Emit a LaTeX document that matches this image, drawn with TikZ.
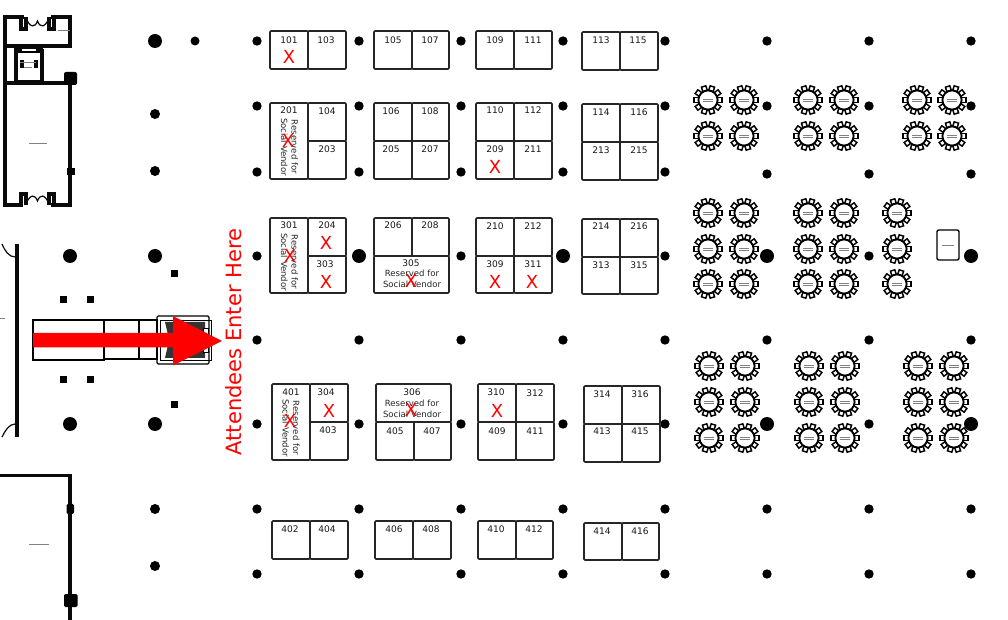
\documentclass[tikz,border=0pt]{standalone}
\usepackage{fontspec}
\setmainfont{DejaVu Sans}
\definecolor{wallblack}{RGB}{10,10,10}
\tikzset{
  px/.style={x=0.75pt,y=-0.75pt},
  boothbox/.style={draw=black!85,line width=1.2pt,rounded corners=0.8pt,fill=white},
  boothnum/.style={font=\fontsize{6.8}{8}\selectfont,inner sep=0pt,text=black!90},
  resnote/.style={font=\fontsize{6.4}{7.9}\selectfont,inner sep=0pt,align=center,text=black!85},
  soldx/.style={font=\fontsize{13.5}{14}\selectfont,text=red,inner sep=0pt},
  wall/.style={draw=wallblack,line width=2.6pt},
  thinwall/.style={draw=wallblack,line width=1.1pt},
  door/.style={draw=wallblack,line width=0.9pt},
  column/.style={fill=black,draw=none},
  tinylabel/.style={draw=gray,line width=0.5pt},
  chair/.style={draw=black,line width=1.1pt,fill=white},
}
\newcommand{\bx}[4]{\draw[boothbox] (#1,#2) rectangle (#3,#4);}
\newcommand{\bn}[3]{\node[boothnum] at (#1,#2) {#3};}
\newcommand{\sold}[2]{\node[soldx] at (#1,#2) {X};}
% two-by-two block: x1 xm x2 y1 ym y2
\newcommand{\twotwo}[6]{\bx{#1}{#4}{#2}{#5}\bx{#2}{#4}{#3}{#5}\bx{#1}{#5}{#2}{#6}\bx{#2}{#5}{#3}{#6}}
\newcommand{\onetwo}[5]{\bx{#1}{#4}{#2}{#5}\bx{#2}{#4}{#3}{#5}}
\newcommand{\roundtable}[2]{%
  \begin{scope}[shift={(#1,#2)}]
    \foreach \a in {0,36,...,324} {
      \draw[chair,rotate=\a] (9.2,-2.3) rectangle (14.2,2.3);
    }
    \draw[draw=black,line width=1.4pt,fill=white] (0,0) circle (9.6);
    \draw[tinylabel] (-5,-1) -- (5,-1);
    \draw[tinylabel] (-5,1.5) -- (5,1.5);
  \end{scope}}
\begin{document}
\begin{tikzpicture}[px]
\useasboundingbox (0,0) rectangle (1008,620);
\fill[white] (0,0) rectangle (1008,620);

% ---- columns
\foreach \x/\y/\r in {155/41/7,155/114/5,155/171/5,70/256/7,155/256/7,70/424/7,155/424/7,155/509/5,155/566/5,195/41/4.5}
  {\fill[column] (\x,\y) circle (\r);}
\foreach \x in {257,359,461,563,665}
  {\foreach \y in {41,106,172,340,424,509,574}
    {\fill[column] (\x,\y) circle (4.7);}}
\foreach \x in {257,461,665}
  {\fill[column] (\x,256) circle (4.7);}
\foreach \x in {359,563}
  {\fill[column] (\x,256) circle (7);}
\foreach \x in {767,869,971}
  {\foreach \y in {41,106,174,340,509,574}
    {\fill[column] (\x,\y) circle (4.7);}}
\foreach \x in {767,971}{
  \fill[column] (\x,256) circle (7);
  \fill[column] (\x,424) circle (7);}
\fill[column] (869,256) circle (4.7);
\fill[column] (869,424) circle (4.7);

% ---- small square posts
\foreach \x/\y in {63/300,90/300,63/380,90/380,174/274,174/405}
  {\fill[black] (\x-3.5,\y-3.5) rectangle (\x+3.5,\y+3.5);}

% ---- top-left building
\draw[wall] (24,17) -- (5,17) -- (5,205) -- (23,205);
\draw[wall] (51,17) -- (70,17) -- (70,46) -- (5,46);
\draw[wall] (5,83) -- (70,83);
\draw[wall] (70,83) -- (70,205) -- (51,205);
\draw[wall] (21,17) -- (21,29) -- (26,29) -- (26,17);
\draw[wall] (49,17) -- (49,29) -- (54,29) -- (54,17);
\draw[wall] (21,205) -- (21,194) -- (26,194) -- (26,205);
\draw[wall] (49,205) -- (49,194) -- (54,194) -- (54,205);
\draw[door] (26,18) .. controls (30,28) and (35,28) .. (37.5,21) .. controls (40,28) and (45,28) .. (49,18);
\draw[door] (26,204) .. controls (30,194) and (35,194) .. (37.5,201) .. controls (40,194) and (45,194) .. (49,204);
\draw[thinwall] (15,48) rectangle (42,81);
\draw[wall] (16,50) -- (16,81);
\draw[wall] (42,49) -- (42,81);
\draw[wall] (16,49) -- (22,49);
\draw[wall] (36,49) -- (42,49);
\draw[wall] (22,60) -- (22,68);
\draw[wall] (36,60) -- (36,68);
\draw[line width=0.8pt,draw=black] (18,52) -- (40,52);
\draw[tinylabel] (20,62) -- (36,62);
\draw[tinylabel] (24,67) -- (32,67);
\draw[tinylabel] (58,30.5) -- (70,30.5);
\draw[tinylabel] (29,143) -- (47,143);
\fill[black,rounded corners=1.5pt] (64,72) rectangle (77,85);
\fill[black] (67,168) rectangle (74.5,175);

% ---- middle wall
\draw[wall] (17,244) -- (17,437);
\draw[door] (15,257) .. controls (9,257) and (5,251) .. (2,244);
\draw[door] (15,424) .. controls (9,424) and (5,431) .. (2,437);
\draw[tinylabel] (0,318) -- (5,318);

% ---- entry
\draw[draw=black,line width=0.8pt] (33,320) rectangle (104,360);
\draw[draw=black,line width=1.5pt] (104,320) rectangle (157,359);
\draw[draw=black,line width=0.8pt] (139,320) -- (139,359);
\draw[draw=black,line width=0.9pt,rounded corners=1pt] (157,316) rectangle (209,364);
\draw[draw=black,line width=0.7pt] (160,320) rectangle (211,360);
\fill[black!80] (165,322) -- (190,322) -- (205,322) -- (205,358) -- (165,358) -- (168,345) -- (168,335) -- cycle;
\draw[draw=black,line width=0.6pt,fill=white] (203,328) rectangle (208,352);

% ---- entrance arrow and label
\fill[red] (33,333) -- (173,333) -- (173,316) -- (222,341) -- (173,365.5) -- (173,347.5) -- (33,347.5) -- cycle;
\node[rotate=90,text=red,inner sep=0pt,font=\fontsize{15.8}{18}\selectfont] (enter) at (234,342) {Attendees Enter Here};

% ---- bottom-left room
\draw[wall] (0,475.5) -- (70,475.5) -- (70,620);
\fill[black,rounded corners=1pt] (66.5,504) rectangle (74,514);
\fill[black,rounded corners=1pt] (64,594) rectangle (77.5,607);
\draw[tinylabel] (29,544.5) -- (49,544.5);

% ---- booths row 1
\onetwo{270}{308}{346}{31}{69}
\onetwo{374}{412}{449}{31}{69}
\onetwo{476}{514}{552}{31}{69}
\onetwo{582}{620}{658}{32}{70}
\bn{289}{40}{101}\bn{326}{40}{103}
\bn{393}{40}{105}\bn{430}{40}{107}
\bn{495}{40}{109}\bn{533}{40}{111}
\bn{601}{40}{113}\bn{638}{40}{115}

% ---- row 2
\bx{270}{103}{308}{179}\bx{308}{103}{346}{141}\bx{308}{141}{346}{179}
\twotwo{374}{412}{449}{103}{141}{179}
\twotwo{476}{514}{552}{103}{141}{179}
\twotwo{582}{620}{658}{104}{142}{180}
\bn{289}{110}{201}\bn{327}{111}{104}\bn{327}{149}{203}
\bn{391}{111}{106}\bn{430}{111}{108}\bn{391}{149}{205}\bn{430}{149}{207}
\bn{495}{110}{110}\bn{533}{110}{112}\bn{495}{149}{209}\bn{533}{149}{211}
\bn{601}{112}{114}\bn{639}{112}{116}\bn{601}{150}{213}\bn{639}{150}{215}
\node[resnote,rotate=-90] at (289.5,147) {Reserved for\\Social Vendor};

% ---- row 3
\bx{270}{218}{308}{293}\bx{308}{218}{346}{256}\bx{308}{256}{346}{293}
\bx{374}{218}{412}{256}\bx{412}{218}{449}{256}\bx{374}{256}{449}{293}
\twotwo{476}{514}{552}{218}{256}{293}
\twotwo{582}{620}{658}{219}{257}{294}
\bn{289}{225}{301}\bn{327}{225}{204}\bn{325}{264}{303}
\bn{393}{225}{206}\bn{430}{225}{208}\bn{411}{263}{305}
\bn{495}{226}{210}\bn{533}{226}{212}\bn{495}{264}{309}\bn{533}{264}{311}
\bn{601}{226}{214}\bn{639}{226}{216}\bn{601}{265}{313}\bn{639}{265}{315}
\node[resnote,rotate=-90] at (289.5,262) {Reserved for\\Social Vendor};
\node[resnote] at (412,279) {Reserved for\\Social Vendor};

% ---- row 4
\bx{272}{384}{310}{460}\bx{310}{384}{348}{422}\bx{310}{422}{348}{460}
\bx{376}{384}{451}{422}\bx{376}{422}{414}{460}\bx{414}{422}{451}{460}
\twotwo{478}{516}{554}{384}{422}{460}
\twotwo{584}{622}{660}{386}{424}{462}
\bn{291}{392}{401}\bn{326}{392}{304}\bn{328}{430}{403}
\bn{412}{392}{306}\bn{395}{431}{405}\bn{432}{431}{407}
\bn{496}{392}{310}\bn{535}{393}{312}\bn{497}{431}{409}\bn{535}{431}{411}
\bn{602}{394}{314}\bn{640}{394}{316}\bn{602}{431}{413}\bn{640}{431}{415}
\node[resnote,rotate=-90] at (291,428) {Reserved for\\Social Vendor};
\node[resnote] at (412,409) {Reserved for\\Social Vendor};

% ---- row 5
\onetwo{272}{310}{348}{521}{559}
\onetwo{375}{413}{451}{521}{559}
\onetwo{478}{516}{553}{521}{559}
\onetwo{584}{622}{659}{523}{560}
\bn{290}{529}{402}\bn{327}{529}{404}
\bn{394}{529}{406}\bn{431}{529}{408}
\bn{496}{529}{410}\bn{534}{529}{412}
\bn{602}{531}{414}\bn{640}{531}{416}

% ---- sold marks
\sold{289}{57}\sold{288}{141}\sold{326}{243}\sold{326}{282}\sold{290}{256}
\sold{411}{281}\sold{495}{167}\sold{495}{282}\sold{532}{282}
\sold{290}{421}\sold{329}{411}\sold{411}{410}\sold{497}{411}

% ---- round tables
\foreach \x/\y in {708/100,744/100,708/136,744/136,808/100,844/100,808/136,844/136,917/100,952/100,917/136,952/136,
  708/213,744/213,708/249,744/249,708/284,744/284,808/213,844/213,808/249,844/249,808/284,844/284,897/213,897/249,897/284,
  709/366,745/366,709/402,745/402,709/438,745/438,809/366,845/366,809/402,845/402,809/438,845/438,918/366,954/366,918/402,954/402,918/438,954/438}
  {\roundtable{\x}{\y}}

% ---- stage box
\draw[draw=black,line width=1pt,rounded corners=1pt] (937,230) rectangle (959,260);
\draw[tinylabel] (942,245) -- (954,245);
\end{tikzpicture}
\end{document}
